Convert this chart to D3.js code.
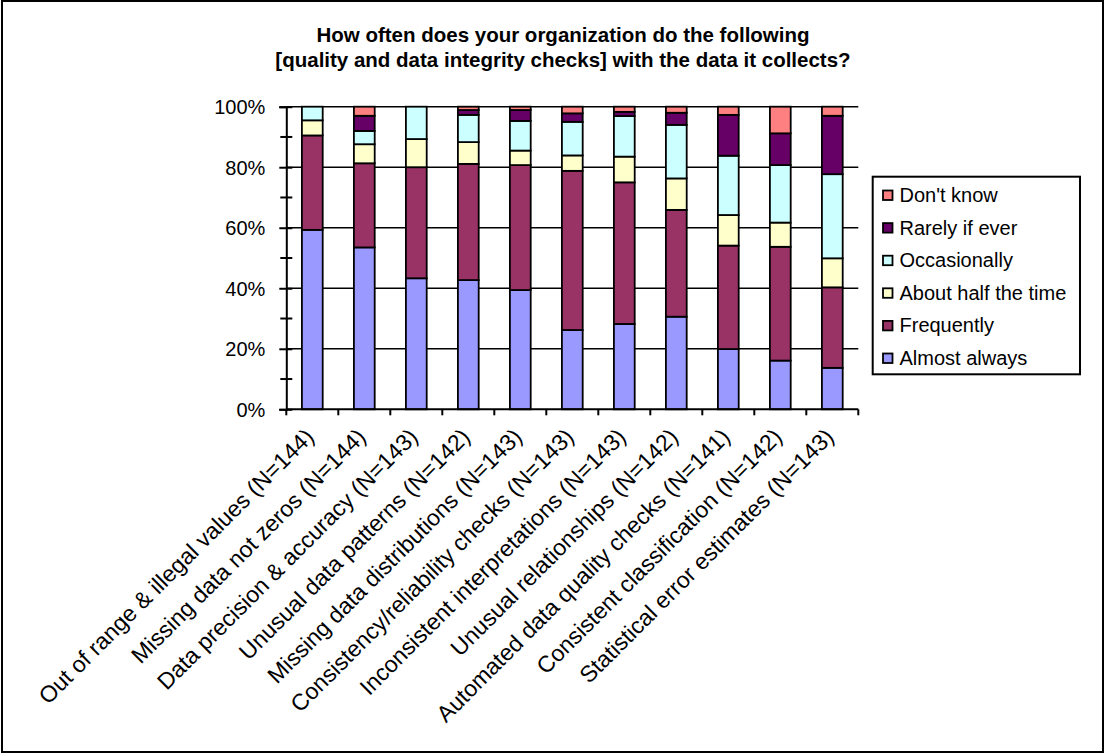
<!DOCTYPE html>
<html>
<head>
<meta charset="utf-8">
<script src="https://cdn.jsdelivr.net/npm/d3@7"></script>
<style>
  html, body { margin: 0; padding: 0; background: #fff; }
  svg { display: block; font-family: "Liberation Sans", Arial, sans-serif; }
</style>
</head>
<body>
<svg id="chart" width="1105" height="754"></svg>
<script>
// Survey items (x categories)
const categories = [
  "Out of range & illegal values (N=144)",
  "Missing data not zeros (N=144)",
  "Data precision & accuracy (N=143)",
  "Unusual data patterns (N=142)",
  "Missing data distributions (N=143)",
  "Consistency/reliability checks (N=143)",
  "Inconsistent interpretations (N=143)",
  "Unusual relationships (N=142)",
  "Automated data quality checks (N=141)",
  "Consistent classification (N=142)",
  "Statistical error estimates (N=143)"
];

// Response shares, percent of respondents, one array per answer
const almostAlways = [59.3, 53.5, 43.3, 42.7, 39.4, 26.2, 28.2, 30.6, 19.9, 16.1, 13.7];
const frequently   = [31.2, 27.8, 36.7, 38.4, 41.3, 52.6, 46.8, 35.3, 34.2, 37.6, 26.6];
const aboutHalf    = [ 5.0,  6.3,  9.3,  7.2,  4.8,  5.1,  8.5, 10.4, 10.1,  8.0,  9.6];
const occasionally = [ 4.5,  4.4, 10.7,  9.0,  9.8, 11.1, 13.4, 17.7, 19.6, 19.0, 27.8];
const rarely       = [ 0.0,  5.0,  0.0,  1.6,  3.6,  2.8,  1.4,  4.0, 13.5, 10.5, 19.3];
const dontKnow     = [ 0.0,  3.0,  0.0,  1.1,  1.1,  2.2,  1.7,  2.0,  2.7,  8.8,  3.0];

const seriesNames = ["Almost always", "Frequently", "About half the time",
                     "Occasionally", "Rarely if ever", "Don't know"];
const seriesColors = ["#9999FF", "#993366", "#FFFFCC", "#CCFFFF", "#660066", "#FF8080"];
const yTicks = [0, 0.2, 0.4, 0.6, 0.8, 1.0];
const yMinorTicks = [0.1, 0.3, 0.5, 0.7, 0.9];
const titleLines = ["How often does your organization do the following",
                    "[quality and data integrity checks] with the data it collects?"];

const seriesValues = [almostAlways, frequently, aboutHalf, occasionally, rarely, dontKnow];
const rows = categories.map((c, i) => {
  const row = { category: c };
  const total = d3.sum(seriesValues, s => s[i]);
  seriesNames.forEach((n, k) => { row[n] = seriesValues[k][i] / total; });
  return row;
});

const svg = d3.select("#chart");
const W = 1105, H = 754;
const plot = { left: 286.3, right: 858.3, top: 106.7, bottom: 409.3 };

// Outer frame
svg.append("rect").attr("x", 2).attr("y", 1).attr("width", W - 4).attr("height", H - 3)
  .attr("fill", "#fff").attr("stroke", "#000").attr("stroke-width", 2);

// Title
const title = svg.append("text").attr("text-anchor", "middle")
  .attr("font-weight", "bold").attr("font-size", 20.5).attr("fill", "#000");
titleLines.forEach((t, i) => {
  title.append("tspan").attr("x", 563).attr("y", 42 + i * 25).text(t);
});

const x = d3.scaleBand().domain(categories)
  .range([plot.left, plot.right]).paddingInner(0.6).paddingOuter(0.3);
const y = d3.scaleLinear().domain([0, 1]).range([plot.bottom, plot.top]);

// Gridlines
svg.append("g").selectAll("line").data(yTicks.slice(1)).join("line")
  .attr("x1", plot.left).attr("x2", plot.right)
  .attr("y1", d => y(d)).attr("y2", d => y(d))
  .attr("stroke", "#000").attr("stroke-width", 1.5);

// Stacked bars
const stack = d3.stack().keys(seriesNames)(rows);
svg.append("g").selectAll("g").data(stack).join("g")
  .attr("fill", (d, i) => seriesColors[i])
  .selectAll("rect").data(d => d.filter(p => p[1] - p[0] > 1e-6)).join("rect")
  .attr("x", d => x(d.data.category))
  .attr("width", x.bandwidth())
  .attr("y", d => y(d[1]))
  .attr("height", d => y(d[0]) - y(d[1]))
  .attr("stroke", "#000").attr("stroke-width", 1.8);

// Y axis
const yAxis = svg.append("g").attr("transform", `translate(${plot.left},0)`)
  .call(d3.axisLeft(y).tickValues(yTicks).tickFormat(d3.format(".0%"))
    .tickSize(7).tickPadding(14));
yAxis.select(".domain").attr("stroke-width", 2);
yAxis.selectAll(".tick line").attr("stroke-width", 2).attr("x2", -7).attr("x1", 6);
yAxis.selectAll(".tick text").attr("font-size", 20).attr("dy", "0.35em");
svg.append("g").selectAll("line").data(yMinorTicks).join("line")
  .attr("x1", plot.left - 6).attr("x2", plot.left + 6)
  .attr("y1", d => y(d)).attr("y2", d => y(d))
  .attr("stroke", "#000").attr("stroke-width", 2);

// X axis with tick marks between categories
const step = x.step();
const boundaries = d3.range(categories.length + 1).map(i => plot.left + i * step);
svg.append("line").attr("x1", plot.left).attr("x2", plot.right)
  .attr("y1", plot.bottom).attr("y2", plot.bottom)
  .attr("stroke", "#000").attr("stroke-width", 2);
svg.append("g").selectAll("line").data(boundaries).join("line")
  .attr("x1", d => d).attr("x2", d => d)
  .attr("y1", plot.bottom).attr("y2", plot.bottom + 6)
  .attr("stroke", "#000").attr("stroke-width", 2);

// Rotated category labels
svg.append("g").selectAll("text").data(categories).join("text")
  .attr("transform", d => {
    const cx = x(d) + x.bandwidth() / 2;
    return `translate(${cx + 3},${plot.bottom + 29}) rotate(-45)`;
  })
  .attr("text-anchor", "end").attr("font-size", 23).attr("fill", "#000")
  .text(d => d);

// Legend
const legend = svg.append("g");
legend.append("rect").attr("x", 872.7).attr("y", 176.7)
  .attr("width", 1080 - 872.7).attr("height", 374.3 - 176.7)
  .attr("fill", "#fff").attr("stroke", "#000").attr("stroke-width", 2);
const legendOrder = seriesNames.map((n, i) => ({ name: n, color: seriesColors[i] })).reverse();
const items = legend.selectAll("g.item").data(legendOrder).join("g")
  .attr("class", "item")
  .attr("transform", (d, i) => `translate(883,${195 + i * 32.6})`);
items.append("rect").attr("x", 0).attr("y", -4.5).attr("width", 9.5).attr("height", 9.5)
  .attr("fill", d => d.color).attr("stroke", "#000").attr("stroke-width", 1.8);
items.append("text").attr("x", 16.5).attr("y", 0).attr("dy", "0.35em")
  .attr("font-size", 20).attr("fill", "#000").text(d => d.name);
</script>
</body>
</html>
